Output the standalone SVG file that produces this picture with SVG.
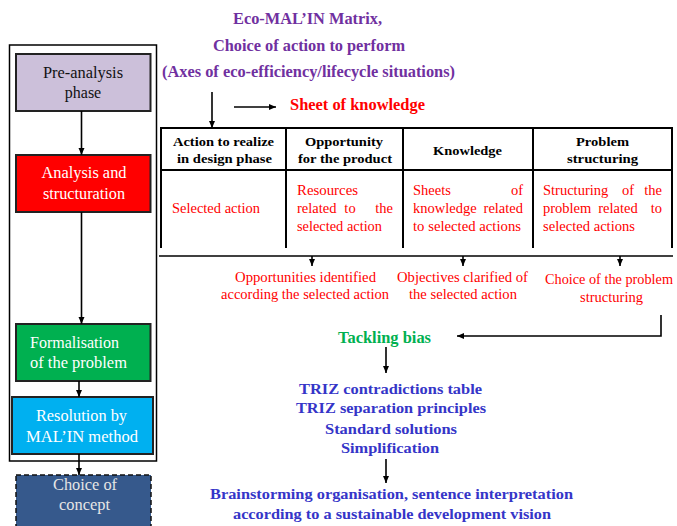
<svg xmlns="http://www.w3.org/2000/svg" width="677" height="526" viewBox="0 0 677 526">
<defs>
<marker id="ah" markerWidth="8" markerHeight="8" refX="7" refY="4" orient="auto" markerUnits="userSpaceOnUse">
<path d="M0,1 L7,4 L0,7 Z" fill="#000"/>
</marker>
<style>
text{font-family:"Liberation Serif","Times New Roman",serif}
.box{stroke:#222;stroke-width:2}
.bt{font-size:16px;fill:#fff}
.pur{font-size:16px;font-weight:bold;fill:#7030A0}
.hd{font-size:13.5px;font-weight:bold;fill:#000}
.rd{font-size:14.5px;fill:#FF0000}
.bl{font-size:15.5px;font-weight:bold;fill:#3535C8}
.ln{stroke:#000;stroke-width:2;fill:none}
.ar{stroke:#000;stroke-width:1.6;fill:none;marker-end:url(#ah)}
</style>
</defs>
<rect width="677" height="526" fill="#fff"/>

<g id="outer-frame">
<rect x="9.5" y="45" width="147" height="416" fill="none" stroke="#000" stroke-width="1.5"/>
</g>

<g id="pre-analysis">
<rect class="box" x="16" y="54" width="134.5" height="57" fill="#CCC0DA"/>
<text x="83" y="78" text-anchor="middle" font-size="16" fill="#111" textLength="80" lengthAdjust="spacingAndGlyphs">Pre-analysis</text>
<text x="83" y="98" text-anchor="middle" font-size="16" fill="#111">phase</text>
</g>

<g id="analysis">
<rect class="box" x="16" y="155" width="134.5" height="57" fill="#FF0000"/>
<text class="bt" x="84" y="178" text-anchor="middle" textLength="85" lengthAdjust="spacingAndGlyphs">Analysis and</text>
<text class="bt" x="84" y="199" text-anchor="middle" textLength="82" lengthAdjust="spacingAndGlyphs">structuration</text>
</g>

<g id="formalisation">
<rect class="box" x="16" y="324" width="134.5" height="57" fill="#00B050"/>
<text class="bt" x="30" y="348" textLength="89" lengthAdjust="spacingAndGlyphs">Formalisation</text>
<text class="bt" x="30" y="368" textLength="97" lengthAdjust="spacingAndGlyphs">of the problem</text>
</g>

<g id="resolution">
<rect class="box" x="12" y="397" width="141" height="57" fill="#00B0F0"/>
<text class="bt" x="81.5" y="421" text-anchor="middle" textLength="91" lengthAdjust="spacingAndGlyphs">Resolution by</text>
<text class="bt" x="82" y="442" text-anchor="middle" textLength="112" lengthAdjust="spacingAndGlyphs">MAL’IN method</text>
</g>

<g id="choice-of-concept">
<rect x="16" y="475" width="135" height="60" fill="#36598C" stroke="#111" stroke-width="1.5" stroke-dasharray="5,3"/>
<text x="85" y="490" text-anchor="middle" font-size="16" fill="#E6E6E6" textLength="64" lengthAdjust="spacingAndGlyphs">Choice of</text>
<text x="84.5" y="510" text-anchor="middle" font-size="16" fill="#E6E6E6" textLength="51" lengthAdjust="spacingAndGlyphs">concept</text>
</g>

<g id="title">
<text class="pur" x="307.5" y="24" text-anchor="middle" textLength="149" lengthAdjust="spacingAndGlyphs">Eco-MAL’IN Matrix,</text>
<text class="pur" x="309" y="51" text-anchor="middle" textLength="192" lengthAdjust="spacingAndGlyphs">Choice of action to perform</text>
<text class="pur" x="308.5" y="77" text-anchor="middle" textLength="293" lengthAdjust="spacingAndGlyphs">(Axes of eco-efficiency/lifecycle situations)</text>
</g>

<g id="sheet-of-knowledge">
<text x="290" y="110" font-size="16" font-weight="bold" fill="#FF0000" textLength="135" lengthAdjust="spacingAndGlyphs">Sheet of knowledge</text>
</g>

<g id="matrix-table">
<line class="ln" x1="160" y1="128" x2="673" y2="128"/>
<line class="ln" x1="161" y1="170" x2="672" y2="170"/>
<line class="ln" x1="161" y1="128" x2="161" y2="248"/>
<line class="ln" x1="286" y1="128" x2="286" y2="248"/>
<line class="ln" x1="403" y1="128" x2="403" y2="248"/>
<line class="ln" x1="533" y1="128" x2="533" y2="248"/>
<line class="ln" x1="672" y1="128" x2="672" y2="248"/>
<line x1="159" y1="256" x2="673" y2="256" stroke="#000" stroke-width="1.5"/>

<text class="hd" x="223.5" y="146" text-anchor="middle" textLength="101" lengthAdjust="spacingAndGlyphs">Action to realize</text>
<text class="hd" x="224.5" y="163" text-anchor="middle" textLength="95" lengthAdjust="spacingAndGlyphs">in design phase</text>
<text class="hd" x="344" y="146" text-anchor="middle" textLength="78" lengthAdjust="spacingAndGlyphs">Opportunity</text>
<text class="hd" x="345" y="163" text-anchor="middle" textLength="94" lengthAdjust="spacingAndGlyphs">for the product</text>
<text class="hd" x="467.5" y="155" text-anchor="middle" textLength="69" lengthAdjust="spacingAndGlyphs">Knowledge</text>
<text class="hd" x="602.5" y="146" text-anchor="middle" textLength="53" lengthAdjust="spacingAndGlyphs">Problem</text>
<text class="hd" x="602.5" y="163" text-anchor="middle" textLength="71" lengthAdjust="spacingAndGlyphs">structuring</text>

<text class="rd" x="172" y="213" textLength="88" lengthAdjust="spacingAndGlyphs">Selected action</text>

<text class="rd" x="297" y="195" textLength="61" lengthAdjust="spacingAndGlyphs">Resources</text>
<text class="rd" x="297" y="213">related</text>
<text class="rd" x="350" y="213" text-anchor="middle">to</text>
<text class="rd" x="393" y="213" text-anchor="end">the</text>
<text class="rd" x="297" y="231" textLength="85" lengthAdjust="spacingAndGlyphs">selected action</text>

<text class="rd" x="413" y="195">Sheets</text>
<text class="rd" x="523" y="195" text-anchor="end">of</text>
<text class="rd" x="413" y="213">knowledge</text>
<text class="rd" x="523" y="213" text-anchor="end">related</text>
<text class="rd" x="413" y="231" textLength="108" lengthAdjust="spacingAndGlyphs">to selected actions</text>

<text class="rd" x="543" y="195">Structuring</text>
<text class="rd" x="628" y="195" text-anchor="middle">of</text>
<text class="rd" x="662" y="195" text-anchor="end">the</text>
<text class="rd" x="543" y="213">problem</text>
<text class="rd" x="618" y="213" text-anchor="middle">related</text>
<text class="rd" x="662" y="213" text-anchor="end">to</text>
<text class="rd" x="543" y="231" textLength="92" lengthAdjust="spacingAndGlyphs">selected actions</text>
</g>

<g id="results">
<text class="rd" x="305.5" y="282" text-anchor="middle" textLength="141" lengthAdjust="spacingAndGlyphs">Opportunities identified</text>
<text class="rd" x="305" y="299" text-anchor="middle" textLength="168" lengthAdjust="spacingAndGlyphs">according the selected action</text>
<text class="rd" x="462.5" y="282" text-anchor="middle" textLength="131" lengthAdjust="spacingAndGlyphs">Objectives clarified of</text>
<text class="rd" x="463" y="299" text-anchor="middle" textLength="108" lengthAdjust="spacingAndGlyphs">the selected action</text>
<text class="rd" x="609" y="284" text-anchor="middle" textLength="128" lengthAdjust="spacingAndGlyphs">Choice of the problem</text>
<text class="rd" x="611.5" y="302" text-anchor="middle" textLength="63" lengthAdjust="spacingAndGlyphs">structuring</text>
</g>

<g id="tackling-bias">
<text x="384.5" y="343" text-anchor="middle" font-size="16" font-weight="bold" fill="#00B050" textLength="93" lengthAdjust="spacingAndGlyphs">Tackling bias</text>
</g>

<g id="triz-tools">
<text class="bl" x="390.5" y="394" text-anchor="middle" textLength="183" lengthAdjust="spacingAndGlyphs">TRIZ contradictions table</text>
<text class="bl" x="391" y="413" text-anchor="middle" textLength="190" lengthAdjust="spacingAndGlyphs">TRIZ separation principles</text>
<text class="bl" x="391" y="434" text-anchor="middle" textLength="132" lengthAdjust="spacingAndGlyphs">Standard solutions</text>
<text class="bl" x="390" y="453" text-anchor="middle" textLength="98" lengthAdjust="spacingAndGlyphs">Simplification</text>
</g>

<g id="brainstorming">
<text class="bl" x="391.5" y="499" text-anchor="middle" textLength="363" lengthAdjust="spacingAndGlyphs">Brainstorming organisation, sentence interpretation</text>
<text class="bl" x="392" y="519" text-anchor="middle" textLength="318" lengthAdjust="spacingAndGlyphs">according to a sustainable development vision</text>
</g>

<g id="connectors">
<line class="ar" x1="81.5" y1="111" x2="81.5" y2="155"/>
<line class="ar" x1="81.5" y1="212" x2="81.5" y2="324"/>
<line class="ar" x1="79" y1="381" x2="79" y2="397"/>
<line class="ar" x1="79" y1="454" x2="79" y2="475"/>
<line class="ar" x1="212" y1="92" x2="212" y2="128"/>
<line class="ar" x1="234" y1="107" x2="276" y2="107"/>
<line class="ar" x1="312" y1="256" x2="312" y2="266"/>
<line class="ar" x1="463" y1="256" x2="463" y2="266"/>
<line class="ar" x1="620" y1="256" x2="620" y2="266"/>
<polyline class="ar" points="661,315 661,336 457,336"/>
<line class="ar" x1="386" y1="347" x2="386" y2="373"/>
<line class="ar" x1="386" y1="459" x2="386" y2="483"/>
</g>
</svg>
